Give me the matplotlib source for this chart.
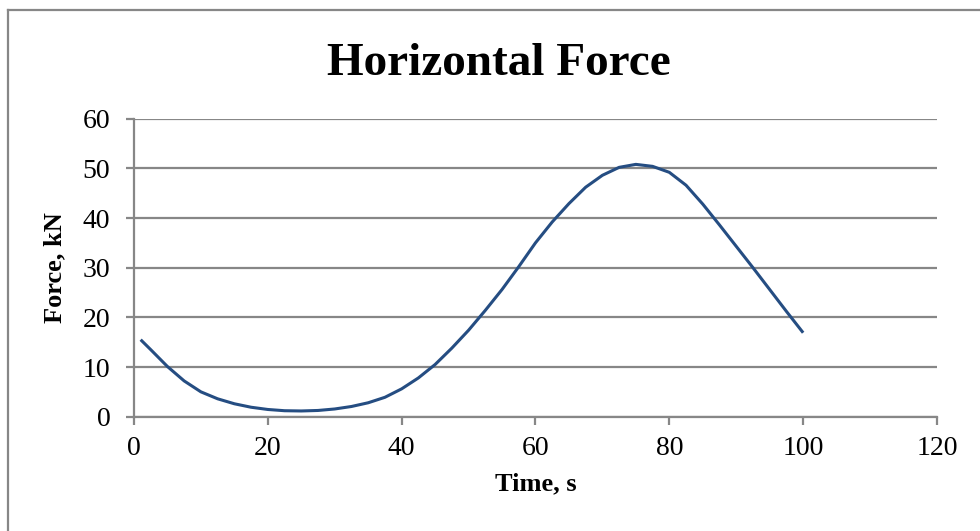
import matplotlib
matplotlib.use("Agg")
import matplotlib.pyplot as plt
from matplotlib.lines import Line2D

# values
time_s = [1, 2.5, 5, 7.5, 10, 12.5, 15, 17.5, 20, 22.5, 25, 27.5, 30, 32.5, 35, 37.5,
          40, 42.5, 45, 47.5, 50, 52.5, 55, 57.5, 60, 62.5, 65, 67.5, 70, 72.5,
          75, 77.5, 80, 82.5, 85, 87.5, 90, 92.5, 95, 97.5, 100]
force_kn = [15.5, 13.5, 10.1, 7.2, 5.0, 3.6, 2.6, 1.9, 1.45, 1.2, 1.15, 1.25, 1.55, 2.05, 2.8, 3.9,
            5.6, 7.8, 10.5, 13.8, 17.4, 21.4, 25.6, 30.2, 35.0, 39.2, 42.9, 46.2, 48.6, 50.2,
            50.8, 50.4, 49.2, 46.6, 42.8, 38.6, 34.3, 30.0, 25.6, 21.2, 16.9]
x_ticks = [0, 20, 40, 60, 80, 100, 120]
y_ticks = [0, 10, 20, 30, 40, 50, 60]

SERIF = ["Liberation Serif", "DejaVu Serif"]
GRID = "#878787"
LINE = "#254d82"

fig = plt.figure(figsize=(9.8, 5.31), dpi=100)
ax = fig.add_axes([0.1367, 0.2153, 0.8194, 0.5612])

ax.plot(time_s, force_kn, color=LINE, linewidth=2.2,
        solid_capstyle="butt", solid_joinstyle="round")

ax.set_xlim(0, 120)
ax.set_ylim(0, 60)
ax.set_xticks(x_ticks)
ax.set_yticks(y_ticks)
ax.yaxis.grid(True, color=GRID, linewidth=1.6)
ax.set_axisbelow(True)
for side in ("top", "right"):
    ax.spines[side].set_visible(False)
for side in ("left", "bottom"):
    ax.spines[side].set_color(GRID)
    ax.spines[side].set_linewidth(1.6)
ax.tick_params(axis="both", direction="out", length=6, width=1.6, color=GRID,
               labelsize=20, labelcolor="black")
ax.tick_params(axis="y", pad=11)
ax.tick_params(axis="x", pad=8)
for lab in ax.get_xticklabels() + ax.get_yticklabels():
    lab.set_family(SERIF)

ax.set_xlabel("Time, s", fontsize=19, fontweight="bold", family=SERIF, labelpad=8)
ax.set_ylabel("Force, kN", fontsize=19, fontweight="bold", family=SERIF, labelpad=12)

fig.text(498.5 / 980, 1 - 75 / 531, "Horizontal Force", ha="center", va="baseline",
         fontsize=34, fontweight="bold", family=SERIF)

# chart border (only top and left edges show in the crop)
fig.add_artist(Line2D([7.5 / 980, 1.0], [1 - 10 / 531, 1 - 10 / 531],
                      transform=fig.transFigure, color=GRID, linewidth=1.6))
fig.add_artist(Line2D([7.5 / 980, 7.5 / 980], [0.0, 1 - 10 / 531],
                      transform=fig.transFigure, color=GRID, linewidth=1.6))

fig.savefig("out.png", dpi=100)
plt.close(fig)
